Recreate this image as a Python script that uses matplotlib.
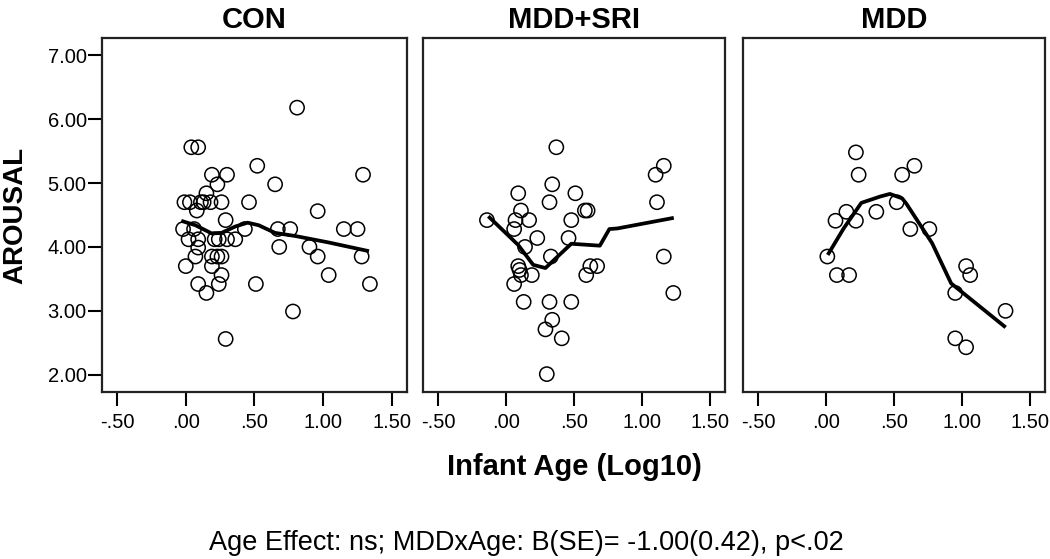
import matplotlib
matplotlib.use("Agg")
import matplotlib.pyplot as plt

plt.rcParams['font.family'] = ['Liberation Sans', 'DejaVu Sans']

# panel titles
groups = ["CON", "MDD+SRI", "MDD"]

# CON: infant age (log10) and arousal
con_x = [0.81, 0.04, 0.09, 0.52, 0.19, 0.30, 0.23, 1.29, 0.65, 0.15,
         -0.01, 0.03, 0.11, 0.18, 0.26, 0.46, 0.08, 0.96, 0.29, -0.02,
         0.02, 0.09, 0.24, 0.30, 0.36, 0.43, 0.67, 0.76, 1.15, 1.25,
         0.68, 0.90, 0.96, 1.28, 0.07, 0.19, 0.23, 0.26, 0.00, 0.19,
         0.26, 1.04, 0.09, 0.24, 0.51, 1.34, 0.15, 0.78, 0.29, 0.09,
         0.06, 0.13, 0.21]
con_y = [6.18, 5.56, 5.56, 5.27, 5.13, 5.13, 4.98, 5.13, 4.98, 4.84,
         4.70, 4.70, 4.70, 4.70, 4.70, 4.70, 4.57, 4.56, 4.42, 4.28,
         4.12, 4.12, 4.12, 4.12, 4.12, 4.28, 4.28, 4.28, 4.28, 4.28,
         4.00, 4.00, 3.85, 3.85, 3.85, 3.85, 3.85, 3.85, 3.70, 3.70,
         3.56, 3.56, 3.42, 3.42, 3.42, 3.42, 3.28, 2.99, 2.56, 3.99,
         4.28, 4.70, 4.12]
con_fit_x = [-0.02, 0.07, 0.19, 0.26, 0.36, 0.45, 0.53, 0.65, 0.80, 1.04, 1.32]
con_fit_y = [4.40, 4.34, 4.21, 4.22, 4.32, 4.38, 4.34, 4.22, 4.17, 4.07, 3.94]

# MDD+SRI
sri_x = [0.37, 1.16, 1.10, 0.34, 0.09, 0.51, 0.32, 1.11, 0.11, 0.58,
         0.60, -0.14, 0.07, 0.17, 0.48, 0.06, 0.23, 0.46, 0.14, 0.33,
         1.16, 0.09, 0.62, 0.67, 0.11, 0.19, 0.59, 0.06, 1.23, 0.13,
         0.32, 0.48, 0.34, 0.29, 0.41, 0.30, 0.10]
sri_y = [5.56, 5.27, 5.13, 4.98, 4.84, 4.84, 4.70, 4.70, 4.57, 4.57,
         4.57, 4.42, 4.42, 4.42, 4.42, 4.28, 4.14, 4.14, 4.00, 3.85,
         3.85, 3.70, 3.70, 3.70, 3.56, 3.56, 3.56, 3.42, 3.28, 3.14,
         3.14, 3.14, 2.86, 2.71, 2.57, 2.01, 3.64]
sri_fit_x = [-0.12, 0.09, 0.20, 0.29, 0.48, 0.69, 0.76, 0.82, 1.22]
sri_fit_y = [4.46, 4.03, 3.72, 3.67, 4.05, 4.02, 4.28, 4.29, 4.45]

# MDD
mdd_x = [0.22, 0.65, 0.56, 0.24, 0.52, 0.37, 0.15, 0.07, 0.22, 0.62,
         0.76, 0.01, 1.03, 1.06, 0.08, 0.17, 0.95, 1.32, 0.95, 1.03]
mdd_y = [5.48, 5.27, 5.13, 5.13, 4.70, 4.55, 4.55, 4.41, 4.41, 4.28,
         4.28, 3.85, 3.70, 3.56, 3.56, 3.56, 3.28, 3.00, 2.57, 2.43]
mdd_fit_x = [0.02, 0.13, 0.26, 0.40, 0.47, 0.56, 0.59, 0.78, 0.92, 1.31]
mdd_fit_y = [3.90, 4.29, 4.69, 4.79, 4.83, 4.76, 4.68, 4.06, 3.43, 2.76]

x_ticks = [-0.5, 0.0, 0.5, 1.0, 1.5]
x_tick_labels = ["-.50", ".00", ".50", "1.00", "1.50"]
y_ticks = [2, 3, 4, 5, 6, 7]
y_tick_labels = ["2.00", "3.00", "4.00", "5.00", "6.00", "7.00"]

panels = [
    (con_x, con_y, con_fit_x, con_fit_y),
    (sri_x, sri_y, sri_fit_x, sri_fit_y),
    (mdd_x, mdd_y, mdd_fit_x, mdd_fit_y),
]

W, H = 1050, 559
fig = plt.figure(figsize=(W / 100, H / 100), dpi=100)

# axes boxes in pixels: left, right
boxes = [(102, 407), (423, 725), (743, 1045)]
top_px, bot_px = 38, 392

for i, (box, (px, py, fx, fy)) in enumerate(zip(boxes, panels)):
    l, r = box
    ax = fig.add_axes([l / W, 1 - bot_px / H, (r - l) / W, (bot_px - top_px) / H])
    ax.scatter(px, py, s=105, facecolors='none', edgecolors='black', linewidths=1.1, zorder=3)
    ax.plot(fx, fy, color='black', lw=2.7, zorder=4)
    ax.set_xlim(-0.61, 1.61)
    ax.set_ylim(1.73, 7.27)
    ax.set_xticks(x_ticks)
    ax.set_xticklabels(x_tick_labels)
    ax.tick_params(axis='x', length=10, width=1.5, labelsize=14.5, pad=5)
    if i == 0:
        ax.set_yticks(y_ticks)
        ax.set_yticklabels(y_tick_labels)
        ax.tick_params(axis='y', length=10, width=1.5, labelsize=14.5, pad=1)
        ax.set_ylabel("AROUSAL", fontsize=20, fontweight='bold')
        ax.yaxis.set_label_coords(-0.24, 0.5)
    else:
        ax.set_yticks([])
    for sp in ax.spines.values():
        sp.set_linewidth(1.6)
        sp.set_color('#222222')
    ax.set_title(groups[i], fontsize=21, fontweight='bold', pad=7)

fig.text(574 / W, 1 - 475 / H, "Infant Age (Log10)", fontsize=21, fontweight='bold',
         ha='center', va='baseline')
fig.text(526 / W, 1 - 550 / H, "Age Effect: ns; MDDxAge: B(SE)= -1.00(0.42), p<.02",
         fontsize=19.5, ha='center', va='baseline')

fig.savefig("out.png", dpi=100)
